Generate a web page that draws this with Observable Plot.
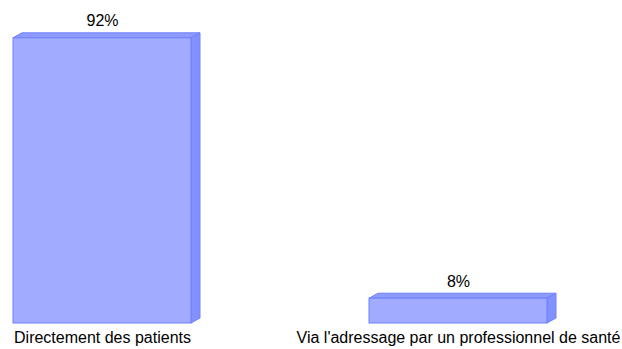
<!DOCTYPE html>
<html>
<head>
<meta charset="utf-8">
<script src="https://cdn.jsdelivr.net/npm/d3@7"></script>
<script src="https://cdn.jsdelivr.net/npm/@observablehq/plot@0.6"></script>
<style>
  html, body { margin: 0; padding: 0; background: #fff; }
  #chart svg { font-family: "Liberation Sans", Arial, sans-serif; }
</style>
</head>
<body>
<div id="chart"></div>
<script>
const categories = ["Directement des patients", "Via l'adressage par un professionnel de santé"];
const values = [92, 8];
const valueLabels = ["92%", "8%"];

const data = categories.map((c, i) => ({category: c, value: values[i], label: valueLabels[i]}));

const FRONT = "#a1abff";
const TOP = "#8d9bff";
const SIDE = "#8391ff";
const STROKE = "#6f80ff";
const DX = 9, DY = 5;

function faces(index, scales) {
  const x = scales.x, y = scales.y;
  let bw = x.bandwidth;
  bw = typeof bw === "function" ? bw() : bw;
  const g = d3.create("svg:g");
  for (const d of data) {
    const x0 = x(d.category), x1 = x0 + bw;
    const yt = y(d.value), yb = y(0);
    // top face
    g.append("path")
      .attr("d", `M${x0},${yt}L${x0 + DX},${yt - DY}L${x1 + DX},${yt - DY}L${x1},${yt}Z`)
      .attr("fill", TOP).attr("stroke", STROKE).attr("stroke-width", 1).attr("stroke-linejoin", "round");
    // side face
    g.append("path")
      .attr("d", `M${x1},${yt}L${x1 + DX},${yt - DY}L${x1 + DX},${yb - DY}L${x1},${yb}Z`)
      .attr("fill", SIDE).attr("stroke", STROKE).attr("stroke-width", 1).attr("stroke-linejoin", "round");
  }
  return g.node();
}

const chart = Plot.plot({
  width: 622,
  height: 349,
  marginLeft: 12,
  marginRight: 75,
  marginTop: 13,
  marginBottom: 26,
  style: {fontSize: "16px", fontFamily: "Liberation Sans, Arial, sans-serif", color: "#000", background: "#fff"},
  x: {domain: categories, paddingInner: 0.5, paddingOuter: 0, label: null, tickSize: 0, tickPadding: 8},
  y: {domain: [0, 100], axis: null},
  marks: [
    faces,
    Plot.barY(data, {x: "category", y: "value", fill: FRONT, stroke: STROKE, strokeWidth: 1, inset: 0}),
    Plot.text(data, {x: "category", y: "value", text: "label", lineAnchor: "bottom", dy: -12, fontSize: 16, fill: "#000"})
  ]
});
document.getElementById("chart").appendChild(chart);
</script>
</body>
</html>
